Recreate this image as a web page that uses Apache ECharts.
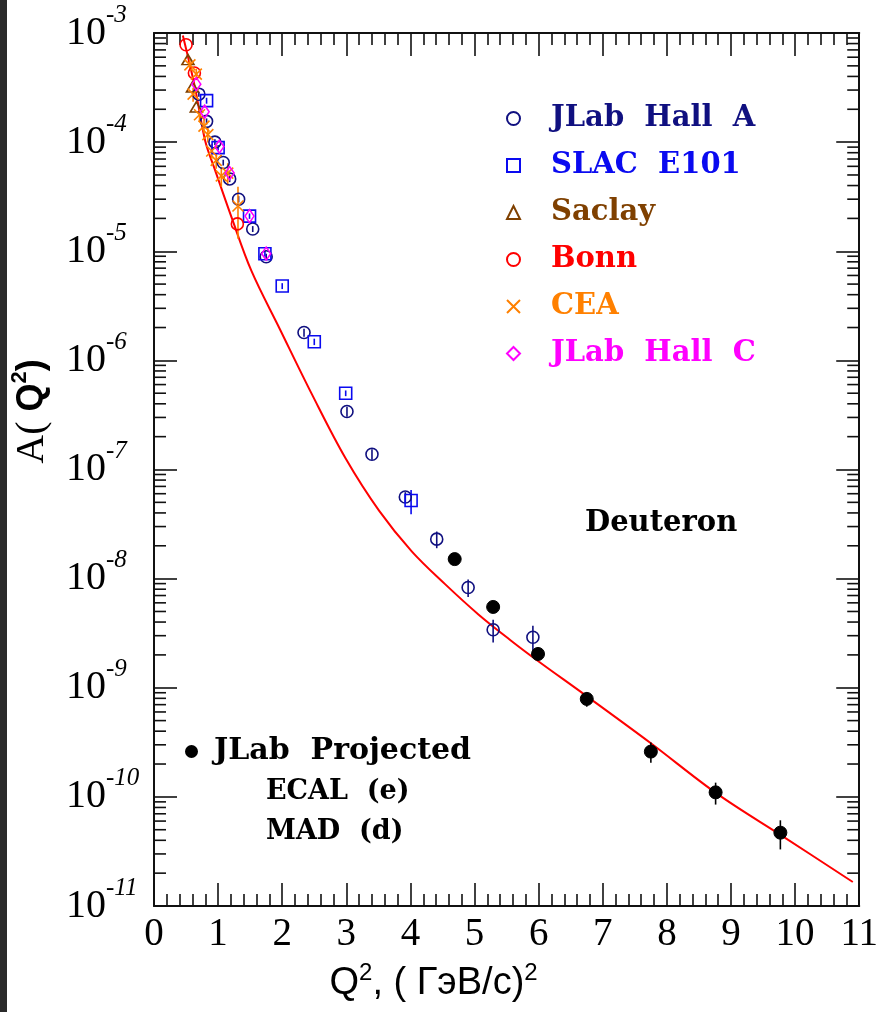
<!DOCTYPE html>
<html>
<head>
<meta charset="utf-8">
<script src="https://cdn.jsdelivr.net/npm/echarts@6/dist/echarts.min.js"></script>
<style>
html, body { margin: 0; padding: 0; background: #fff; }
#chart { width: 881px; height: 1012px; }
</style>
</head>
<body>
<div id="chart"></div>
<script>
// Deuteron structure function A(Q^2): world data, projected points and theory curve

// Theory curve
const curveQ2 = [0.45, 0.55, 0.65, 0.80, 0.95, 1.21, 1.52, 1.96, 2.47, 2.99, 3.51, 4.02, 4.54, 5.06, 5.57, 6.00, 6.71, 7.75, 8.78, 9.82, 10.90];
const curveA  = [9.5e-4, 5.4e-4, 2.95e-4, 1.02e-4, 5.6e-5, 2.04e-5, 6.6e-6, 1.95e-6, 4.8e-7, 1.26e-7, 4.2e-8, 1.78e-8, 8.9e-9, 4.7e-9, 2.7e-9, 1.74e-9, 8.7e-10, 3.1e-10, 1.07e-10, 4.3e-11, 1.66e-11];

// JLab Hall A
const hallAQ2  = [0.70, 0.82, 0.95, 1.08, 1.18, 1.32, 1.54, 1.75, 2.34, 3.01, 3.40, 3.92, 4.41, 4.90, 5.29, 5.91];
const hallAA   = [2.75e-4, 1.55e-4, 1.0e-4, 6.5e-5, 4.6e-5, 3.0e-5, 1.6e-5, 8.9e-6, 1.8e-6, 3.4e-7, 1.38e-7, 5.6e-8, 2.3e-8, 8.3e-9, 3.4e-9, 2.9e-9];
const hallAErr = [1.5e-5, 1.0e-5, 6e-6, 4e-6, 3e-6, 2e-6, 1e-6, 6e-7, 1.5e-7, 3.5e-8, 1.5e-8, 6e-9, 4e-9, 1.5e-9, 8e-10, 8e-10];

// SLAC E101
const slacQ2  = [0.82, 1.00, 1.49, 1.73, 2.00, 2.50, 2.99, 4.01];
const slacA   = [2.4e-4, 8.9e-5, 2.1e-5, 9.5e-6, 4.8e-6, 1.48e-6, 5.0e-7, 5.2e-8];
const slacErr = [1.5e-5, 5e-6, 1.2e-6, 6e-7, 3e-7, 1e-7, 3e-8, 1.3e-8];

// Saclay
const saclayQ2 = [0.53, 0.60, 0.66];
const saclayA  = [5.7e-4, 3.2e-4, 2.1e-4];

// Bonn
const bonnQ2 = [0.50, 0.63, 1.30];
const bonnA  = [7.8e-4, 4.3e-4, 1.78e-5];

// CEA
const ceaQ2  = [0.56, 0.61, 0.66, 0.71, 0.78, 0.84, 0.90, 0.97, 1.05, 1.15, 1.31];
const ceaA   = [5.1e-4, 2.75e-4, 4.2e-4, 1.78e-4, 1.4e-4, 1.17e-4, 8.3e-5, 6.8e-5, 4.9e-5, 5.2e-5, 2.6e-5];
const ceaErr = [6e-5, 4e-5, 5e-5, 2.5e-5, 2e-5, 1.8e-5, 1.3e-5, 1.1e-5, 1.0e-5, 1.2e-5, 1.3e-5];

// JLab Hall C
const hallCQ2 = [0.66, 0.79, 1.02, 1.18, 1.49, 1.75];
const hallCA  = [3.4e-4, 1.9e-4, 9.1e-5, 5.2e-5, 2.1e-5, 9.5e-6];

// JLab projected (ECAL / MAD)
const projQ2  = [4.69, 5.29, 5.99, 6.75, 7.75, 8.76, 9.77];
const projA   = [1.51e-8, 5.5e-9, 2.04e-9, 7.9e-10, 2.6e-10, 1.1e-10, 4.7e-11];
const projErr = [0, 0, 0, 1.2e-10, 5.5e-11, 2.5e-11, 1.4e-11];

// Axis ranges
const xMin = 0, xMax = 11;
const yMin = 1e-11, yMax = 1e-3;

const NAME_HALLA = 'JLab  Hall  A';
const NAME_SLAC = 'SLAC  E101';
const NAME_SACLAY = 'Saclay';
const NAME_BONN = 'Bonn';
const NAME_CEA = 'CEA';
const NAME_HALLC = 'JLab  Hall  C';
const NAME_PROJ = 'JLab  Projected';

const C = {
  hallA: '#101080',
  slac: '#0a0af0',
  saclay: '#7f4000',
  bonn: '#ff0000',
  cea: '#ff8000',
  hallC: '#ff00ff',
  proj: '#000000',
  curve: '#ff0000',
  frame: '#111111'
};

const pairs = (xs, ys) => xs.map((x, i) => [x, ys[i]]);

function errSeries(color, xs, ys, errs, width) {
  return {
    type: 'custom',
    silent: true,
    z: 3,
    clip: false,
    encode: { x: 0, y: [1, 2] },
    data: xs.map((x, i) => [x, ys[i] - errs[i], ys[i] + errs[i]]).filter((d, i) => errs[i] > 0),
    renderItem: function (params, api) {
      const lo = api.coord([api.value(0), api.value(1)]);
      const hi = api.coord([api.value(0), api.value(2)]);
      return {
        type: 'line',
        shape: { x1: lo[0], y1: lo[1], x2: hi[0], y2: hi[1] },
        style: { stroke: color, lineWidth: width }
      };
    }
  };
}

function scatter(name, color, data, symbol, size, filled) {
  return {
    type: 'scatter',
    name: name,
    data: data,
    symbol: symbol,
    symbolSize: size,
    z: 4,
    itemStyle: filled
      ? { color: color, borderColor: color, borderWidth: 1, opacity: 1 }
      : { color: 'rgba(0,0,0,0)', borderColor: color, borderWidth: 1.6, opacity: 1 }
  };
}

// Log minor ticks (2..9 x 10^k) on the left and right frame edges
const minorLogTicks = [];
for (let k = -11; k < -3; k++) {
  for (let m = 2; m <= 9; m++) minorLogTicks.push([xMin, m * Math.pow(10, k)]);
}
const minorTickSeries = {
  type: 'custom',
  silent: true,
  clip: false,
  z: 2,
  encode: { x: 0, y: 1 },
  data: minorLogTicks,
  renderItem: function (params, api) {
    const l = api.coord([xMin, api.value(1)]);
    const r = api.coord([xMax, api.value(1)]);
    const style = { stroke: C.frame, lineWidth: 1.6 };
    return {
      type: 'group',
      children: [
        { type: 'line', shape: { x1: l[0], y1: l[1], x2: l[0] + 12, y2: l[1] }, style: style },
        { type: 'line', shape: { x1: r[0], y1: r[1], x2: r[0] - 12, y2: r[1] }, style: style }
      ]
    };
  }
};

const legendFont = { fontFamily: 'DejaVu Serif', fontWeight: 'bold', fontSize: 29, lineHeight: 31 };

const xAxisBase = {
  type: 'value', min: xMin, max: xMax, interval: 1,
  axisLine: { show: true, onZero: false, lineStyle: { color: C.frame, width: 2 } },
  axisTick: { show: true, inside: true, length: 23, lineStyle: { color: C.frame, width: 1.6 } },
  minorTick: { show: true, splitNumber: 5, length: 12, lineStyle: { color: C.frame, width: 1.6 } },
  splitLine: { show: false }
};
const yAxisBase = {
  type: 'log', logBase: 10, min: yMin, max: yMax, interval: 1,
  axisLine: { show: true, onZero: false, lineStyle: { color: C.frame, width: 2 } },
  axisTick: { show: true, inside: true, length: 23, lineStyle: { color: C.frame, width: 1.6 } },
  splitLine: { show: false }
};

const chart = echarts.init(document.getElementById('chart'), null, { renderer: 'canvas' });

chart.setOption({
  backgroundColor: '#ffffff',
  animation: false,
  grid: { left: 154, right: 18, top: 33, bottom: 103, containLabel: false },
  xAxis: [
    Object.assign({}, xAxisBase, {
      position: 'bottom',
      name: '{q|Q}{s|2}{q|, ( ГэВ/с)}{s|2}',
      nameLocation: 'middle',
      nameGap: 58,
      nameTextStyle: {
        padding: [0, 146, 0, 0],
        rich: {
          q: { fontFamily: 'Liberation Sans', fontSize: 38, color: '#000', verticalAlign: 'middle', lineHeight: 40 },
          s: { fontFamily: 'Liberation Sans', fontSize: 24, color: '#000', verticalAlign: 'middle', lineHeight: 24, padding: [0, 0, 22, 0] }
        }
      },
      axisLabel: { show: true, margin: 9, fontFamily: 'Liberation Serif', fontSize: 39, color: '#000' }
    }),
    Object.assign({}, xAxisBase, { position: 'top', axisLabel: { show: false } })
  ],
  yAxis: [
    Object.assign({}, yAxisBase, {
      position: 'left',
      name: '{a|A( }{q|Q}{s|2}{q|)}',
      nameLocation: 'middle',
      nameRotate: 90,
      nameGap: 100,
      nameTextStyle: {
        padding: [0, 0, 0, 116],
        rich: {
          a: { fontFamily: 'Liberation Serif', fontSize: 40, color: '#000', verticalAlign: 'middle', lineHeight: 40 },
          q: { fontFamily: 'Liberation Sans', fontWeight: 'bold', fontSize: 36, color: '#000', verticalAlign: 'middle', lineHeight: 40 },
          s: { fontFamily: 'Liberation Sans', fontWeight: 'bold', fontSize: 22, color: '#000', verticalAlign: 'middle', lineHeight: 22, padding: [0, 0, 24, 0] }
        }
      },
      axisLabel: {
        show: true,
        align: 'left',
        margin: 88,
        showMinLabel: true,
        showMaxLabel: true,
        formatter: function (v) {
          return '{b|10}{s|' + Math.round(Math.log10(v)) + '}';
        },
        rich: {
          b: { fontFamily: 'Liberation Serif', fontSize: 40, color: '#000', verticalAlign: 'middle', lineHeight: 40 },
          s: { fontFamily: 'Liberation Serif', fontStyle: 'italic', fontSize: 25, color: '#000', verticalAlign: 'middle', lineHeight: 24, padding: [0, 0, 36, 0] }
        }
      }
    }),
    Object.assign({}, yAxisBase, { position: 'right', axisLabel: { show: false } })
  ],
  legend: [
    {
      orient: 'vertical',
      left: 501,
      top: 98,
      itemWidth: 13,
      itemHeight: 13,
      itemGap: 16,
      selectedMode: false,
      textStyle: Object.assign({ padding: [0, 0, 0, 26] }, legendFont),
      data: [
        { name: NAME_HALLA, textStyle: { color: C.hallA } },
        { name: NAME_SLAC, textStyle: { color: C.slac } },
        { name: NAME_SACLAY, textStyle: { color: C.saclay } },
        { name: NAME_BONN, textStyle: { color: C.bonn } },
        { name: NAME_CEA, textStyle: { color: C.cea } },
        { name: NAME_HALLC, textStyle: { color: C.hallC } }
      ]
    },
    {
      orient: 'vertical',
      left: 180,
      top: 731,
      itemWidth: 11,
      itemHeight: 11,
      selectedMode: false,
      textStyle: Object.assign({ padding: [0, 0, 0, 12], color: '#000' }, legendFont, { fontSize: 30 }),
      data: [{ name: NAME_PROJ }]
    }
  ],
  graphic: [
    { type: 'rect', left: 0, top: 0, shape: { width: 7, height: 1012 }, style: { fill: '#2a2a2a' }, silent: true },
    { type: 'text', left: 585, top: 509, style: { text: 'Deuteron', fill: '#000', font: 'bold 29px "DejaVu Serif"' } },
    { type: 'text', left: 266, top: 778, style: { text: 'ECAL  (e)', fill: '#000', font: 'bold 27px "DejaVu Serif"' } },
    { type: 'text', left: 266, top: 818, style: { text: 'MAD  (d)', fill: '#000', font: 'bold 27px "DejaVu Serif"' } }
  ],
  series: [
    minorTickSeries,
    {
      type: 'line',
      name: 'theory',
      data: pairs(curveQ2, curveA),
      showSymbol: false,
      symbol: 'none',
      smooth: 0.35,
      z: 2,
      lineStyle: { color: C.curve, width: 2 }
    },
    errSeries(C.hallA, hallAQ2, hallAA, hallAErr, 1.6),
    errSeries(C.slac, slacQ2, slacA, slacErr, 1.6),
    errSeries(C.cea, ceaQ2, ceaA, ceaErr, 1.6),
    errSeries(C.proj, projQ2, projA, projErr, 1.6),
    scatter(NAME_HALLA, C.hallA, pairs(hallAQ2, hallAA), 'circle', 12, false),
    scatter(NAME_SLAC, C.slac, pairs(slacQ2, slacA), 'rect', 12, false),
    scatter(NAME_SACLAY, C.saclay, pairs(saclayQ2, saclayA), 'triangle', [12, 10], false),
    scatter(NAME_BONN, C.bonn, pairs(bonnQ2, bonnA), 'circle', 12, false),
    scatter(NAME_CEA, C.cea, pairs(ceaQ2, ceaA), 'path://M0,0L10,10M10,0L0,10', 11, false),
    scatter(NAME_HALLC, C.hallC, pairs(hallCQ2, hallCA), 'diamond', [9, 13], false),
    scatter(NAME_PROJ, C.proj, pairs(projQ2, projA), 'circle', 13, true)
  ]
});
</script>
</body>
</html>
